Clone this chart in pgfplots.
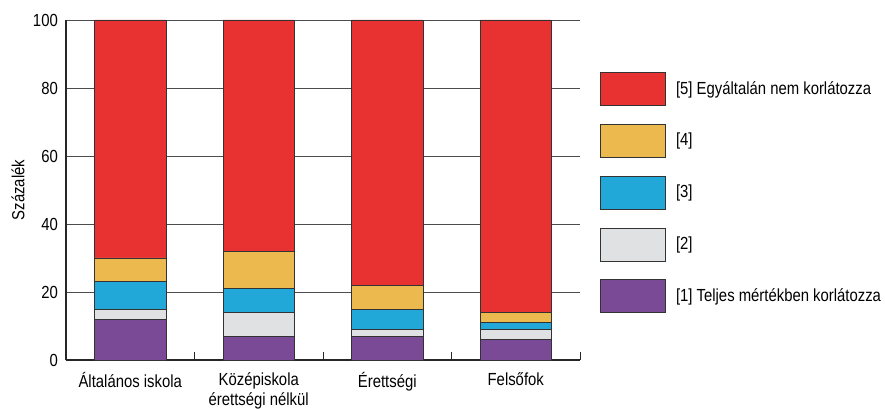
\documentclass[border=0pt]{standalone}
\usepackage{pgfplots}
\pgfplotsset{compat=1.18}
\usepackage{fontspec}
\setmainfont{Liberation Sans}[FakeStretch=0.85]
\definecolor{cA}{HTML}{7B4A96}
\definecolor{cB}{HTML}{E0E1E3}
\definecolor{cC}{HTML}{22A7D9}
\definecolor{cD}{HTML}{EBB94E}
\definecolor{cE}{HTML}{E83232}
\begin{document}
\fontsize{17.5}{20}\selectfont
\begin{tikzpicture}
\begin{axis}[
  scale only axis, width=514pt, height=340pt,
  ybar stacked, bar width=0.555,
  xmin=-0.5, xmax=3.5, ymin=0, ymax=100,
  axis x line=bottom, axis y line=left,
  axis line style={-, black!85, line width=1.2pt},
  xtick={0,1,2,3},
  xticklabels={Általános iskola, Középiskola\\érettségi nélkül, Érettségi, Felsőfok},
  x tick label style={align=center, anchor=north, inner sep=0pt, yshift=-12pt},
  major x tick style={draw=none},
  minor xtick={-0.5,0.5,1.5,2.5,3.5},
  minor tick length=8pt,
  minor x tick style={black!85, line width=1pt},
  tick align=inside,
  ytick={0,20,40,60,80,100},
  major y tick style={draw=none},
  y tick label style={inner sep=0pt, xshift=-8pt, anchor=east},
  ymajorgrids, grid style={black!70, line width=0.7pt},
  /pgf/number format/assume math mode=true,
  ylabel={Százalék},
  ylabel style={at={(axis description cs:0,0.5)}, anchor=center, yshift=48pt},
  legend image code/.code={\draw[#1, draw=black!80, line width=0.8pt] (0pt,-16.5pt) rectangle (65pt,16.5pt);},
  reverse legend,
  legend cell align=left,
  legend style={draw=none, fill=none, at={(1,1)}, anchor=north west, xshift=20pt, yshift=-52pt,
    inner sep=0pt, row sep=18pt, column sep=10pt, nodes={inner sep=0pt}},
  every axis plot/.append style={draw=black!80, line width=0.8pt},
]
\addplot[fill=cA] coordinates {(0,12) (1,7) (2,7) (3,6)};
\addplot[fill=cB] coordinates {(0,3) (1,7) (2,2) (3,3)};
\addplot[fill=cC] coordinates {(0,8) (1,7) (2,6) (3,2)};
\addplot[fill=cD] coordinates {(0,7) (1,11) (2,7) (3,3)};
\addplot[fill=cE] coordinates {(0,70) (1,68) (2,78) (3,86)};
\legend{{{}[1] Teljes mértékben korlátozza},{{}[2]},{{}[3]},{{}[4]},{{}[5] Egyáltalán nem korlátozza}}
\end{axis}
\path ([xshift=-66pt,yshift=-46pt]current axis.south west) rectangle ([xshift=305pt,yshift=20pt]current axis.north east);
\end{tikzpicture}
\end{document}
